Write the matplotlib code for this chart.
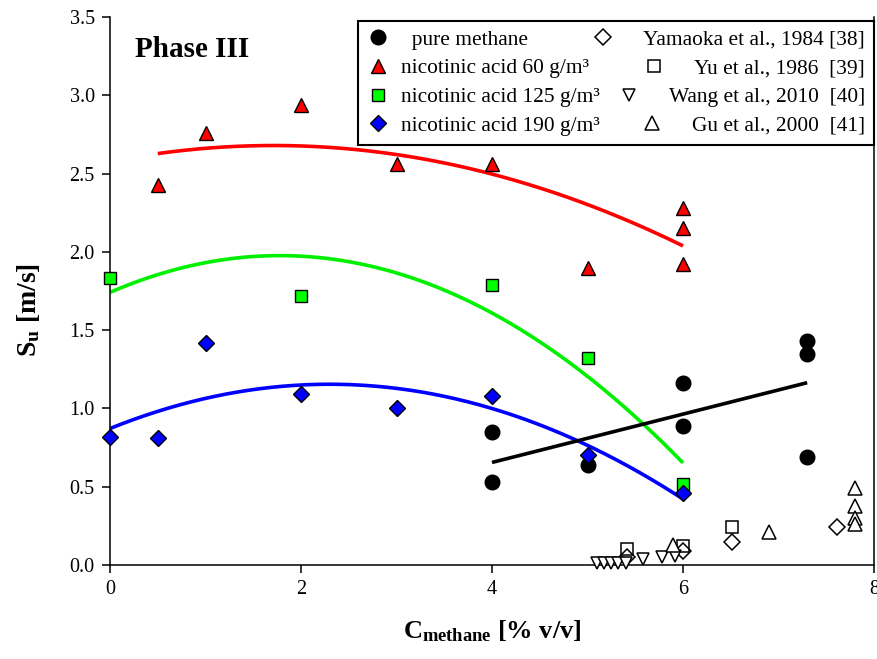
import numpy as np
import matplotlib
matplotlib.use("Agg")
import matplotlib.pyplot as plt

plt.rcParams['font.family'] = ['Liberation Serif', 'DejaVu Serif']
plt.rcParams['mathtext.fontset'] = 'custom'
plt.rcParams['mathtext.rm'] = 'Liberation Serif'
plt.rcParams['mathtext.bf'] = 'Liberation Serif:bold'
plt.rcParams['mathtext.it'] = 'Liberation Serif:italic'

# ---- data ----
methane_x = [4, 4, 5, 6, 6, 7.3, 7.3, 7.3]
methane_y = [0.85, 0.53, 0.64, 1.16, 0.89, 1.43, 1.35, 0.69]

na60_x = [0.5, 1, 2, 3, 4, 5, 6, 6, 6]
na60_y = [2.43, 2.76, 2.94, 2.56, 2.56, 1.90, 2.28, 2.15, 1.92]

na125_x = [0, 2, 4, 5, 6]
na125_y = [1.83, 1.72, 1.79, 1.32, 0.52]

na190_x = [0, 0.5, 1, 2, 3, 4, 5, 6]
na190_y = [0.82, 0.81, 1.42, 1.09, 1.00, 1.08, 0.70, 0.46]

yamaoka_x = [5.41, 6.0, 6.51, 7.61]
yamaoka_y = [0.05, 0.09, 0.15, 0.24]

yu_x = [5.41, 6.0, 6.51]
yu_y = [0.10, 0.12, 0.24]

wang_x = [5.10, 5.17, 5.25, 5.32, 5.40, 5.58, 5.78, 5.92]
wang_y = [0.01, 0.01, 0.01, 0.01, 0.01, 0.04, 0.05, 0.06]

gu_x = [5.90, 6.90, 7.80, 7.80, 7.80, 7.80]
gu_y = [0.13, 0.21, 0.49, 0.38, 0.30, 0.26]

x_ticks = [0, 2, 4, 6, 8]
y_ticks = [0.0, 0.5, 1.0, 1.5, 2.0, 2.5, 3.0, 3.5]

labels = ['  pure methane', 'nicotinic acid 60 g/m\u00b3', 'nicotinic acid 125 g/m\u00b3',
          'nicotinic acid 190 g/m\u00b3', 'Yamaoka et al., 1984 [38]', 'Yu et al., 1986  [39]',
          'Wang et al., 2010  [40]', 'Gu et al., 2000  [41]']

# ---- figure ----
fig = plt.figure(figsize=(8.77, 6.59), dpi=100)
ax = fig.add_axes([110 / 877, 1 - 565 / 659, 764 / 877, 548 / 659])

def fit_line(x, y, deg, color):
    c = np.polyfit(x, y, deg)
    xs = np.linspace(min(x), max(x), 200)
    ax.plot(xs, np.polyval(c, xs), color=color, lw=2.6, zorder=2, solid_capstyle='butt')

fit_line(na60_x, na60_y, 2, '#ff0000')
fit_line(na125_x, na125_y, 2, '#00f000')
fit_line(na190_x, na190_y, 2, '#0000ff')
fit_line(methane_x, methane_y, 1, 'black')

h = []
h.append(ax.plot(methane_x, methane_y, 'o', ms=10.5, mfc='black', mec='black', zorder=3, clip_on=False)[0])
h.append(ax.plot(na60_x, na60_y, '^', ms=9.5, mfc='#ff0000', mec='black', mew=1.0, zorder=3, clip_on=False)[0])
h.append(ax.plot(na125_x, na125_y, 's', ms=8.6, mfc='#00ff00', mec='black', mew=1.0, zorder=3, clip_on=False)[0])
h.append(ax.plot(na190_x, na190_y, 'D', ms=8.0, mfc='#0000ff', mec='black', mew=1.0, zorder=3, clip_on=False)[0])
h.append(ax.plot(yamaoka_x, yamaoka_y, 'D', ms=8.0, mfc='white', mec='black', mew=1.1, zorder=4, clip_on=False)[0])
h.append(ax.plot(yu_x, yu_y, 's', ms=8.6, mfc='none', mec='black', mew=1.1, zorder=4, clip_on=False)[0])
h.append(ax.plot(wang_x, wang_y, 'v', ms=8.6, mfc='white', mec='black', mew=1.1, zorder=4, clip_on=False)[0])
h.append(ax.plot(gu_x, gu_y, '^', ms=9.5, mfc='white', mec='black', mew=1.1, zorder=4, clip_on=False)[0])

ax.set_xlim(0, 8)
ax.set_ylim(0, 3.5)
ax.set_xticks(x_ticks)
ax.set_xticklabels([str(t) for t in x_ticks])
ax.set_yticks(y_ticks)
ax.set_yticklabels(['%.1f' % t for t in y_ticks])
ax.tick_params(direction='out', length=6, width=1.1, labelsize=14.5, pad=5)
ax.spines['top'].set_visible(False)
for s in ['left', 'right', 'bottom']:
    ax.spines[s].set_linewidth(1.1)

ax.set_xlabel(r'$\mathbf{C}_{\mathbf{methane}}$ [% v/v]', fontsize=19, fontweight='bold', labelpad=14)
ax.set_ylabel(r'$\mathbf{S}_{\mathbf{u}}$ [m/s]', fontsize=20, fontweight='bold')
ax.yaxis.set_label_coords(-0.089, 0.465)

ax.text(0.033, 0.965, 'Phase III', transform=ax.transAxes, fontsize=21, fontweight='bold',
        ha='left', va='top')

leg = ax.legend(h, labels, ncol=2, loc='upper left',
                bbox_to_anchor=(0.325, 0.9827, 0.675, 0.01), mode='expand',
                fontsize=15.4, frameon=True, fancybox=False, framealpha=1,
                edgecolor='black', borderpad=0.42, handlelength=1.0, handletextpad=0.58,
                labelspacing=0.4, borderaxespad=0, columnspacing=1.0)
leg.get_frame().set_linewidth(1.5)
try:
    col2 = leg._legend_handle_box.get_children()[1]
    col2.align = 'right'
    for item in col2.get_children():
        item.sep = 21
except Exception:
    pass

fig.savefig('out.png', dpi=100)
